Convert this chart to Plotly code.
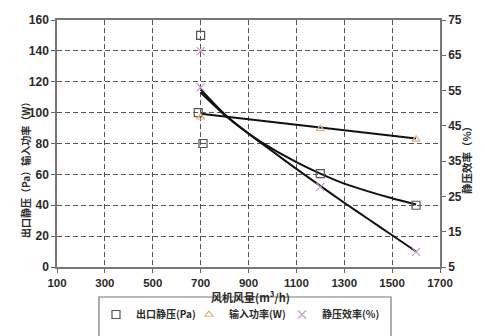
import plotly.graph_objects as go

# ---- data ----
press_x = [700, 690, 710, 1200, 1600]
press_y = [150, 100, 80, 60.5, 40]          # 出口静压 (Pa)

power_x = [700, 1200, 1600]
power_y = [97, 89.5, 82.7]                  # 输入功率 (W)

eff_x = [700, 700, 1200, 1600]
eff_y = [66.2, 55.9, 27.7, 9.3]             # 静压效率 (%) right axis

# trend lines
fit_x = [700, 800, 900, 1000, 1100, 1200, 1300, 1400, 1500, 1600]
press_fit = [113, 98.5, 86.5, 76.5, 68, 60.5, 54, 49, 44.5, 40.5]
eff_fit = [55.3, 48.3, 42.8, 37.8, 32.8, 28.0, 23.2, 18.6, 14.0, 9.4]
power_fit_x = [700, 1600]
power_fit = [99.2, 83.2]

x_ticks = [100, 300, 500, 700, 900, 1100, 1300, 1500, 1700]
y_ticks = [0, 20, 40, 60, 80, 100, 120, 140, 160]
y2_ticks = [5, 15, 25, 35, 45, 55, 65, 75]

FONT = "Liberation Sans, Noto Sans CJK SC, sans-serif"
CJK = "Noto Sans CJK SC, Liberation Sans, sans-serif"
TXT = "#2a2a2a"

L, R, T, B = 57, 440, 20, 267
PW, PH = R - L, B - T


def px(xp):
    return (xp - L) / PW


def py(yp):
    return (B - yp) / PH


fig = go.Figure()

# trend lines
fig.add_trace(go.Scatter(x=fit_x, y=press_fit, mode="lines",
                         line=dict(color="#111", width=2, shape="spline", smoothing=0.6),
                         showlegend=False, hoverinfo="skip"))
fig.add_trace(go.Scatter(x=power_fit_x, y=power_fit, mode="lines", line=dict(color="#111", width=2),
                         showlegend=False, hoverinfo="skip"))
fig.add_trace(go.Scatter(x=fit_x, y=eff_fit, mode="lines",
                         line=dict(color="#111", width=2, shape="spline", smoothing=0.6),
                         yaxis="y2", showlegend=False, hoverinfo="skip"))

# markers
fig.add_trace(go.Scatter(x=press_x, y=press_y, mode="markers", name="出口静压(Pa)",
                         marker=dict(symbol="square-open", size=8, color="#555",
                                     line=dict(width=1.2, color="#555"))))
fig.add_trace(go.Scatter(x=power_x, y=power_y, mode="markers", name="输入功率(W)",
                         marker=dict(symbol="triangle-up-open", size=7, color="#e6b07a",
                                     line=dict(width=1.2, color="#e6b07a"))))
fig.add_trace(go.Scatter(x=eff_x, y=eff_y, mode="markers", name="静压效率(%)", yaxis="y2",
                         marker=dict(symbol="x-thin-open", size=8, color="#c79ac9",
                                     line=dict(width=1.2, color="#c79ac9"))))
# empty spacer entry so the last legend label is not clipped
fig.add_trace(go.Scatter(x=[None], y=[None], mode="markers", name=" ",
                         marker=dict(size=1, color="rgba(0,0,0,0)"), hoverinfo="skip"))

grid = dict(showgrid=True, gridcolor="#555", griddash="5px,3px", gridwidth=1)

fig.update_layout(
    width=485, height=336,
    margin=dict(l=L, r=485 - R, t=T, b=336 - B, autoexpand=False),
    paper_bgcolor="white", plot_bgcolor="white",
    font=dict(family=FONT, size=12, color=TXT),
    xaxis=dict(range=[100, 1700], tickvals=x_ticks, ticks="outside", ticklen=4, tickcolor="#666",
               showline=True, linecolor="#777", linewidth=1.5, mirror=True, zeroline=False,
               automargin=False,
               tickfont=dict(family=FONT, size=11.5, color=TXT, weight="bold"), **grid),
    yaxis=dict(range=[0, 160], tickvals=y_ticks, ticks="outside", ticklen=4, tickcolor="#666",
               showline=True, linecolor="#777", linewidth=1.5, mirror=True, zeroline=False,
               automargin=False,
               tickfont=dict(family=FONT, size=12, color=TXT, weight="bold"), **grid),
    yaxis2=dict(range=[5, 75], tickvals=y2_ticks, overlaying="y", side="right", ticks="outside",
                ticklen=4, tickcolor="#666", showline=True, linecolor="#777", linewidth=1.5,
                showgrid=False, zeroline=False, automargin=False,
                tickfont=dict(family=FONT, size=12, color=TXT, weight="bold")),
    legend=dict(orientation="h", x=px(96), y=py(300), xanchor="left", yanchor="top",
                entrywidth=48, itemwidth=30, bgcolor="rgba(0,0,0,0)",
                font=dict(family=CJK, size=10, color=TXT, weight="bold")),
    showlegend=True,
)

# legend frame (box extends past the bottom edge as in the reference)
fig.add_shape(type="rect", xref="paper", yref="paper",
              x0=px(99), x1=px(391), y0=py(345), y1=py(297),
              line=dict(color="#777", width=1.2), fillcolor="rgba(0,0,0,0)", layer="below")

# axis titles
fig.add_annotation(text="风机风量(m³/h)", xref="paper", yref="paper",
                   x=px(250), y=py(297), showarrow=False, yanchor="middle",
                   font=dict(family=CJK, size=11, color=TXT, weight="bold"))
fig.add_annotation(text="出口静压（Pa）输入功率（W）", xref="paper", yref="paper", textangle=-90,
                   x=px(25), y=py(168), showarrow=False, xanchor="center", yanchor="middle",
                   font=dict(family=CJK, size=10, color=TXT, weight="bold"))
fig.add_annotation(text="静压效率（%）", xref="paper", yref="paper", textangle=-90,
                   x=px(466), y=py(157), showarrow=False, xanchor="center", yanchor="middle",
                   font=dict(family=CJK, size=10.5, color=TXT, weight="bold"))

fig.write_html("out.html")
